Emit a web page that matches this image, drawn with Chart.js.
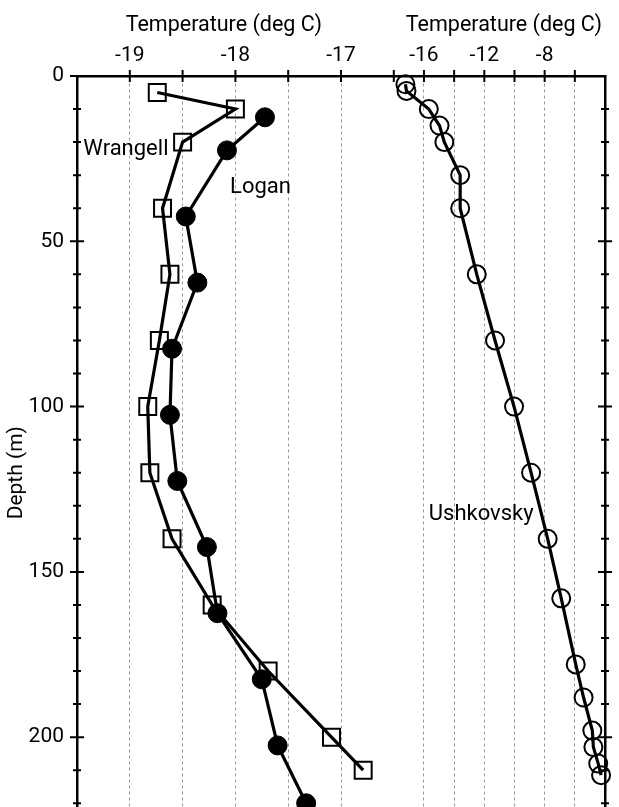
<!DOCTYPE html>
<html>
<head>
<meta charset="utf-8">
<title>Borehole temperature profiles</title>
<script src="https://cdn.jsdelivr.net/npm/chart.js@4.4.1/dist/chart.umd.min.js"></script>
<style>
  html, body { margin: 0; padding: 0; width: 619px; height: 807px; overflow: hidden; background: #fff; }
  #wrap { position: absolute; left: 0; top: 0; width: 619px; height: 895px; }
  canvas { display: block; }
</style>
</head>
<body>
<div id="wrap"><canvas id="profiles" width="619" height="895" style="width:619px;height:895px"></canvas></div>
<script>
// Wrangell (open squares) and Logan (filled circles): left temperature scale
const wrangellDepth = [5, 10, 20, 40, 60, 80, 100, 120, 140, 160, 180, 200, 210];
const wrangellTemp  = [-18.74, -18.0, -18.5, -18.69, -18.62, -18.72, -18.83, -18.81, -18.6, -18.22, -17.69, -17.09, -16.79];

const loganDepth = [12.5, 22.5, 42.5, 62.5, 82.5, 102.5, 122.5, 142.5, 162.5, 182.5, 202.5, 220];
const loganTemp  = [-17.72, -18.08, -18.47, -18.36, -18.6, -18.62, -18.55, -18.27, -18.17, -17.75, -17.6, -17.33];

// Ushkovsky (open circles): right temperature scale
const ushkovskyDepth = [2.5, 4.5, 10, 15, 20, 30, 40, 60, 80, 100, 120, 140, 158, 178, 188, 198, 203, 208, 211.5];
const ushkovskyTemp  = [-17.23, -17.16, -15.68, -14.97, -14.65, -13.6, -13.6, -12.5, -11.29, -10.03, -8.9, -7.8, -6.9, -5.94, -5.42, -4.84, -4.77, -4.45, -4.26];

// Labelled tick values
const leftTempTicks  = [-19, -18, -17];
const rightTempTicks = [-16, -12, -8];
const depthTicks     = [0, 50, 100, 150, 200];

const axisTitle = 'Temperature (deg C)';
const depthTitle = 'Depth (m)';

const FONT = 'Roboto, "Liberation Sans", sans-serif';
Chart.defaults.font.family = FONT;
Chart.defaults.color = '#000';

const toPoints = (depths, temps) => depths.map((d, i) => ({ x: temps[i], y: d }));

// Site names written next to their profiles (temperature on the site's scale, depth in m)
const siteNotes = [
  { text: 'Wrangell',  scale: 'xL', temp: -19.44, depth: 23.9 },
  { text: 'Logan',     scale: 'xL', temp: -18.05, depth: 35.4 },
  { text: 'Ushkovsky', scale: 'xR', temp: -15.68, depth: 134.3 }
];
// Captions above the two temperature scales, centred on a scale value
const scaleCaptions = [
  { text: axisTitle, scale: 'xL', at: -18.11 },
  { text: axisTitle, scale: 'xR', at: -10.7 }
];

// Tick marks that cross the axis lines
const crossTicks = {
  id: 'crossTicks',
  afterDraw(chart) {
    const { ctx, chartArea: a, scales } = chart;
    ctx.save();
    ctx.strokeStyle = '#000';
    ctx.lineWidth = 2;
    ctx.beginPath();
    const xl = scales.xL, xr = scales.xR;
    xl.ticks.forEach(t => {
      if (t.value === xl.min) return;
      const x = xl.getPixelForValue(t.value);
      ctx.moveTo(x, a.top - 6); ctx.lineTo(x, a.top + 6);
    });
    xr.ticks.forEach(t => {
      if (t.value === xr.max || t.value === xr.min) return;
      const x = xr.getPixelForValue(t.value);
      ctx.moveTo(x, a.top - 6); ctx.lineTo(x, a.top + 6);
    });
    const ys = scales.y;
    ys.ticks.forEach(t => {
      const y = ys.getPixelForValue(t.value);
      const h = depthTicks.includes(t.value) ? 7 : 4;
      ctx.moveTo(a.left - h, y); ctx.lineTo(a.left + h, y);
      if (t.value !== 0) { ctx.moveTo(a.right - h, y); ctx.lineTo(a.right + h, y); }
    });
    ctx.stroke();
    ctx.restore();
  }
};

// Site names and scale captions
const textNotes = {
  id: 'textNotes',
  afterDatasetsDraw(chart) {
    const { ctx, scales } = chart;
    ctx.save();
    ctx.fillStyle = '#000';
    ctx.textBaseline = 'alphabetic';
    ctx.textAlign = 'left';
    ctx.font = '22px ' + FONT;
    siteNotes.forEach(n => {
      ctx.fillText(n.text, scales[n.scale].getPixelForValue(n.temp), scales.y.getPixelForValue(n.depth));
    });
    ctx.textAlign = 'center';
    ctx.font = '21.5px ' + FONT;
    scaleCaptions.forEach(c => {
      ctx.fillText(c.text, scales[c.scale].getPixelForValue(c.at), 31);
    });
    ctx.restore();
  }
};

const gridColor = (edges) => (c) => (c.tick && edges.includes(c.tick.value)) ? 'rgba(0,0,0,0)' : '#9a9a9a';

const topScale = (order, share, min, max, step, labelled) => ({
  type: 'linear',
  position: 'top',
  weight: order,
  stack: 'temperature',
  stackWeight: share,
  min, max,
  afterFit: s => { s.height = 76; },
  ticks: {
    stepSize: step,
    autoSkip: false,
    maxRotation: 0,
    padding: 8,
    font: { size: 21 },
    callback: v => labelled.includes(v) ? String(v) : ''
  },
  grid: { color: gridColor([min, max]), lineWidth: 1, drawTicks: false },
  border: { display: true, color: '#000', width: 2.5, dash: [3, 3] }
});

new Chart(document.getElementById('profiles'), {
  type: 'line',
  data: {
    datasets: [
      {
        label: 'Wrangell',
        data: toPoints(wrangellDepth, wrangellTemp),
        xAxisID: 'xL', yAxisID: 'y',
        borderColor: '#000', borderWidth: 3.2,
        pointStyle: 'rect', pointRadius: 12, pointBorderWidth: 2,
        pointBackgroundColor: 'rgba(0,0,0,0)', pointBorderColor: '#000',
        tension: 0, fill: false, clip: false
      },
      {
        label: 'Logan',
        data: toPoints(loganDepth, loganTemp),
        xAxisID: 'xL', yAxisID: 'y',
        borderColor: '#000', borderWidth: 3.2,
        pointStyle: 'circle', pointRadius: 9.5, pointBorderWidth: 1,
        pointBackgroundColor: '#000', pointBorderColor: '#000',
        tension: 0, fill: false, clip: false
      },
      {
        label: 'Ushkovsky',
        data: toPoints(ushkovskyDepth, ushkovskyTemp),
        xAxisID: 'xR', yAxisID: 'y',
        borderColor: '#000', borderWidth: 3.2,
        pointStyle: 'circle', pointRadius: 9, pointBorderWidth: 2,
        pointBackgroundColor: 'rgba(0,0,0,0)', pointBorderColor: '#000',
        tension: 0, fill: false, clip: false
      }
    ]
  },
  options: {
    indexAxis: 'y',
    responsive: false,
    animation: false,
    events: [],
    layout: { padding: 0 },
    plugins: { legend: { display: false }, tooltip: { enabled: false } },
    scales: {
      xL: topScale(1, 3, -19.5, -16.5, 0.5, leftTempTicks),
      xR: topScale(0, 2, -18, -4, 2, rightTempTicks),
      y: {
        type: 'linear',
        position: 'left',
        min: 0, max: 240,
        reverse: true,
        afterFit: s => { s.width = 77; },
        ticks: {
          stepSize: 10,
          autoSkip: false,
          padding: 13,
          font: { size: 21 },
          callback: v => depthTicks.includes(v) ? String(v) : ''
        },
        grid: { display: false, drawTicks: false },
        border: { display: true, color: '#000', width: 2.5 },
        title: { display: true, text: depthTitle, font: { size: 21 }, padding: { top: 4, bottom: 0 } }
      },
      yR: {
        type: 'linear',
        position: 'right',
        min: 0, max: 240,
        reverse: true,
        afterFit: s => { s.width = 8; },
        ticks: { display: false, stepSize: 10 },
        grid: { display: false, drawTicks: false },
        border: { display: true, color: '#000', width: 2.5 }
      }
    }
  },
  plugins: [crossTicks, textNotes]
});
</script>
</body>
</html>
